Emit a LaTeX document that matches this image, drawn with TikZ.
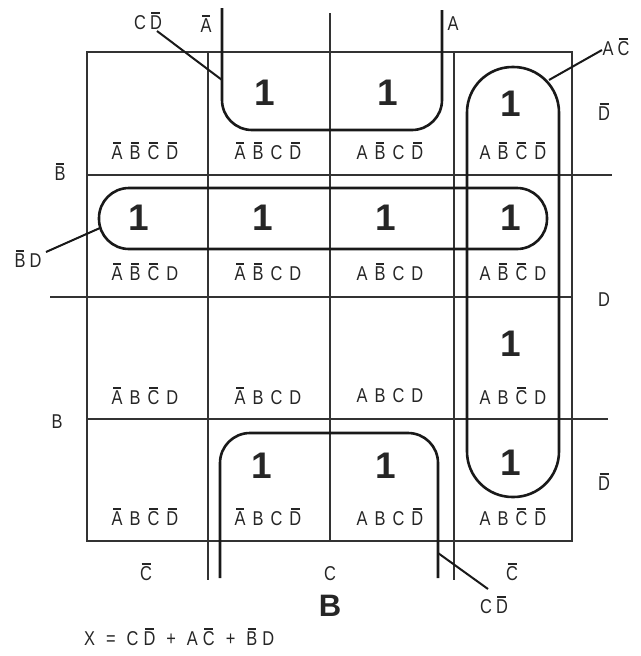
\documentclass[tikz,border=0pt]{standalone}
\usepackage{fontspec}
\setmainfont{Liberation Sans}
\newfontfamily\lblfont[FakeStretch=0.82]{Liberation Sans}
\newsavebox\obbox
\newcommand\ob[1]{\sbox\obbox{#1}\rlap{\hspace{0.12\wd\obbox}\rule[\dimexpr\ht\obbox+2pt\relax]{0.76\wd\obbox}{1.4pt}}\usebox\obbox}
\newcommand\mt[4]{#1\hspace{7pt}#2\hspace{7pt}#3\hspace{7pt}#4}
\tikzset{
  grid/.style={line width=1.2pt, draw=black!80},
  loop/.style={line width=2.6pt, draw=black!90},
  leader/.style={line width=2pt, draw=black!90},
  one/.style={font=\fontsize{37}{37}\selectfont\bfseries, inner sep=0pt, text=black!85},
  cell/.style={font=\lblfont\fontsize{20}{20}\selectfont, inner sep=0pt, text=black!85},
  side/.style={font=\lblfont\fontsize{20}{20}\selectfont, inner sep=0pt, text=black!85},
}
\begin{document}
\begin{tikzpicture}[x=1pt,y=-1pt]
\useasboundingbox (0,0) rectangle (640,656);
% grid
\draw[grid] (87,52) rectangle (572,541);
\draw[grid] (208,52) -- (208,580);
\draw[grid] (330,13) -- (330,541);
\draw[grid] (454,52) -- (454,580);
\draw[grid] (87,175) -- (612,175);
\draw[grid] (50,297) -- (572,297);
\draw[grid] (87,419) -- (608,419);
% ones
\node[one] (o12) at (265,93) {1};
\node[one] (o13) at (388,93) {1};
\node[one] (o14) at (511,104) {1};
\node[one] (o21) at (139,218) {1};
\node[one] (o22) at (263,218) {1};
\node[one] (o23) at (386,218) {1};
\node[one] (o24) at (511,218) {1};
\node[one] (o34) at (511,344) {1};
\node[one] (o42) at (262,466) {1};
\node[one] (o43) at (386,466) {1};
\node[one] (o44) at (511,463) {1};
% cell labels
\node[cell] (c11) at (145,151) {\mt{\ob{A}}{\ob{B}}{\ob{C}}{\ob{D}}};
\node[cell] (c12) at (268,151) {\mt{\ob{A}}{\ob{B}}{C}{\ob{D}}};
\node[cell] (c13) at (390,151) {\mt{A}{\ob{B}}{C}{\ob{D}}};
\node[cell] (c14) at (513,151) {\mt{A}{\ob{B}}{\ob{C}}{\ob{D}}};
\node[cell] (c21) at (145,272) {\mt{\ob{A}}{\ob{B}}{\ob{C}}{D}};
\node[cell] (c22) at (268,272) {\mt{\ob{A}}{\ob{B}}{C}{D}};
\node[cell] (c23) at (390,272) {\mt{A}{\ob{B}}{C}{D}};
\node[cell] (c24) at (513,272) {\mt{A}{\ob{B}}{\ob{C}}{D}};
\node[cell] (c31) at (145,396) {\mt{\ob{A}}{B}{\ob{C}}{D}};
\node[cell] (c32) at (268,396) {\mt{\ob{A}}{B}{C}{D}};
\node[cell] (c33) at (390,396) {\mt{A}{B}{C}{D}};
\node[cell] (c34) at (513,396) {\mt{A}{B}{\ob{C}}{D}};
\node[cell] (c41) at (145,517) {\mt{\ob{A}}{B}{\ob{C}}{\ob{D}}};
\node[cell] (c42) at (268,517) {\mt{\ob{A}}{B}{C}{\ob{D}}};
\node[cell] (c43) at (390,517) {\mt{A}{B}{C}{\ob{D}}};
\node[cell] (c44) at (513,517) {\mt{A}{B}{\ob{C}}{\ob{D}}};
% side labels
\node[side] (sAn) at (206,24) {\ob{A}};
\node[side] (sA) at (453,24) {A};
\node[side] (sBn) at (60,172) {\ob{B}};
\node[side] (sB) at (57,422) {B};
\node[side] (sDn1) at (604,112) {\ob{D}};
\node[side] (sD) at (604,300) {D};
\node[side] (sDn2) at (604,482) {\ob{D}};
\node[side] (sCn1) at (146,572) {\ob{C}};
\node[side] (sC) at (330,574) {C};
\node[side] (sCn2) at (512,572) {\ob{C}};
\node[font=\fontsize{31}{31}\selectfont\bfseries, inner sep=0pt, text=black!85] (big) at (330,606) {B};
\node[side, anchor=west] (eq) at (84,637) {X\hspace{11pt}=\hspace{11pt}C\hspace{5pt}\ob{D}\hspace{11pt}+\hspace{11pt}A\hspace{5pt}\ob{C}\hspace{11pt}+\hspace{11pt}\ob{B}\hspace{5pt}D};
% loops
\draw[loop, rounded corners=30pt] (222,8) -- (222,130) -- (442,130) -- (442,10);
\draw[loop, rounded corners=30pt] (220,578) -- (220,433) -- (438,433) -- (438,578);
\draw[loop, rounded corners=45.5pt] (467,67) rectangle (559,497);
\draw[loop, rounded corners=30pt] (99,188) rectangle (547,249);
% loop term labels
\node[side] (tCD1) at (148,21) {C\hspace{4pt}\ob{D}};
\node[side] (tAC) at (616,47) {A\hspace{4pt}\ob{C}};
\node[side] (tBD) at (28,259) {\ob{B}\hspace{4pt}D};
\node[side] (tCD2) at (494,605) {C\hspace{4pt}\ob{D}};
\coordinate (p1) at (222,80);
\coordinate (q1) at (157,31);
\coordinate (p2) at (549,80);
\coordinate (q2) at (602,50);
\coordinate (p3) at (100,228);
\coordinate (q3) at (46,252);
\coordinate (p4) at (438,553);
\coordinate (q4) at (488,589);
\draw[leader] (p1) -- (q1);
\draw[leader] (p2) -- (q2);
\draw[leader] (p3) -- (q3);
\draw[leader] (p4) -- (q4);
\end{tikzpicture}
\end{document}
